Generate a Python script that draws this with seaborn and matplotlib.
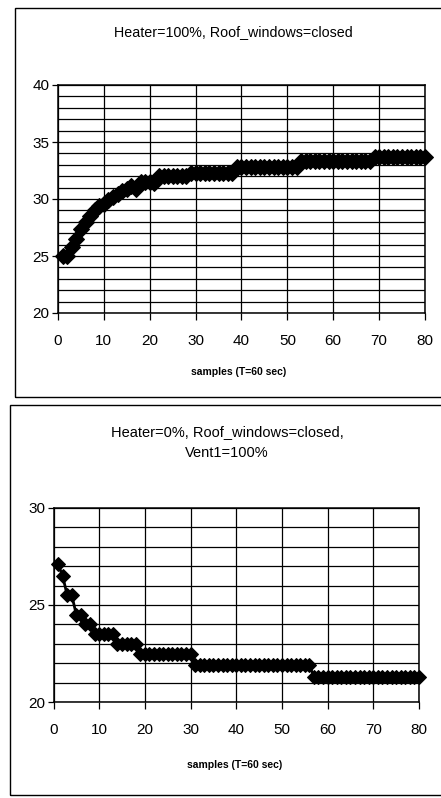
import numpy as np
import pandas as pd
import matplotlib
matplotlib.use('Agg')
import matplotlib.pyplot as plt
import matplotlib.patches as patches
from matplotlib.ticker import MultipleLocator
import seaborn as sns

# --- data ---
samples = list(range(1, 81))

heat_temp = ([25.0, 25.0, 25.8, 26.5, 27.4, 28.0, 28.5, 29.0, 29.4, 29.6,
              29.9, 30.2, 30.4, 30.7, 30.9, 31.1, 30.9, 31.5, 31.5, 31.5, 31.4]
             + [32.0] * 7      # 22-28
             + [32.3] * 10     # 29-38
             + [32.8] * 14     # 39-52
             + [33.3] * 16     # 53-68
             + [33.7] * 12)    # 69-80

vent_temp = ([27.1, 26.5, 25.5, 25.5, 24.5, 24.5, 24.0, 24.0]
             + [23.5] * 5      # 9-13
             + [23.0] * 5      # 14-18
             + [22.5] * 12     # 19-30
             + [21.9] * 26     # 31-56
             + [21.3] * 24)    # 57-80

top_title = "Heater=100%, Roof_windows=closed"
bottom_title = ["Heater=0%, Roof_windows=closed,", "Vent1=100%"]
xlabel = "samples (T=60 sec)"

df_heat = pd.DataFrame({'sample': samples, 'temp': heat_temp})
df_vent = pd.DataFrame({'sample': samples, 'temp': vent_temp})

sns.set_style('white')
plt.rcParams['font.family'] = ['Liberation Sans', 'DejaVu Sans']
plt.rcParams['text.color'] = 'black'

W, H = 441, 798
fig = plt.figure(figsize=(W / 100, H / 100), dpi=100)


def px_rect(left, top, right, bottom):
    return [left / W, (H - bottom) / H, (right - left) / W, (bottom - top) / H]


# outer frames of the two pasted charts
for l, t, r, b in [(15, 8, 446, 397), (10, 405, 446, 795)]:
    fig.patches.append(patches.Rectangle((l / W, (H - b) / H), (r - l) / W, (b - t) / H,
                                         transform=fig.transFigure, fill=False,
                                         edgecolor='black', lw=1.0))


def style_axes(ax, ymin, ymax):
    ax.set_xlim(0, 80)
    ax.set_ylim(ymin, ymax)
    ax.xaxis.set_major_locator(MultipleLocator(10))
    ax.yaxis.set_major_locator(MultipleLocator(5))
    ax.yaxis.set_minor_locator(MultipleLocator(1))
    ax.grid(True, which='major', axis='x', color='black', lw=0.9)
    ax.grid(True, which='both', axis='y', color='black', lw=0.9)
    for s in ax.spines.values():
        s.set_color('black')
        s.set_linewidth(1.1)
    ax.tick_params(axis='x', which='major', direction='out', length=5, width=0.9,
                   pad=10, labelsize=11, colors='black', bottom=True)
    ax.tick_params(axis='y', which='major', direction='out', length=4, width=0.9,
                   pad=2, labelsize=11, colors='black', left=True)
    ax.tick_params(axis='y', which='minor', length=0)
    ax.set_xlabel('')
    ax.set_ylabel('')


ax1 = fig.add_axes(px_rect(58, 85, 425, 313))
sns.lineplot(data=df_heat, x='sample', y='temp', ax=ax1, color='black', lw=2.5,
             marker='D', markersize=8.5, markeredgecolor='black', clip_on=False)
style_axes(ax1, 20, 40)

ax2 = fig.add_axes(px_rect(53.5, 508, 419, 702))
sns.lineplot(data=df_vent, x='sample', y='temp', ax=ax2, color='black', lw=2,
             marker='D', markersize=7.5, markeredgecolor='black', clip_on=False)
style_axes(ax2, 20, 30)

fig.text(233 / W, 1 - 32 / H, top_title, ha='center', va='center', fontsize=10.3)
fig.text(227 / W, 1 - 432 / H, bottom_title[0], ha='center', va='center', fontsize=10.5)
fig.text(227 / W, 1 - 453 / H, bottom_title[1], ha='center', va='center', fontsize=10.5)
fig.text(239 / W, 1 - 372 / H, xlabel, ha='center', va='center', fontsize=7.5,
         fontweight='bold')
fig.text(235 / W, 1 - 765 / H, xlabel, ha='center', va='center', fontsize=7.5,
         fontweight='bold')

plt.savefig('out.png', dpi=100)
plt.close()
